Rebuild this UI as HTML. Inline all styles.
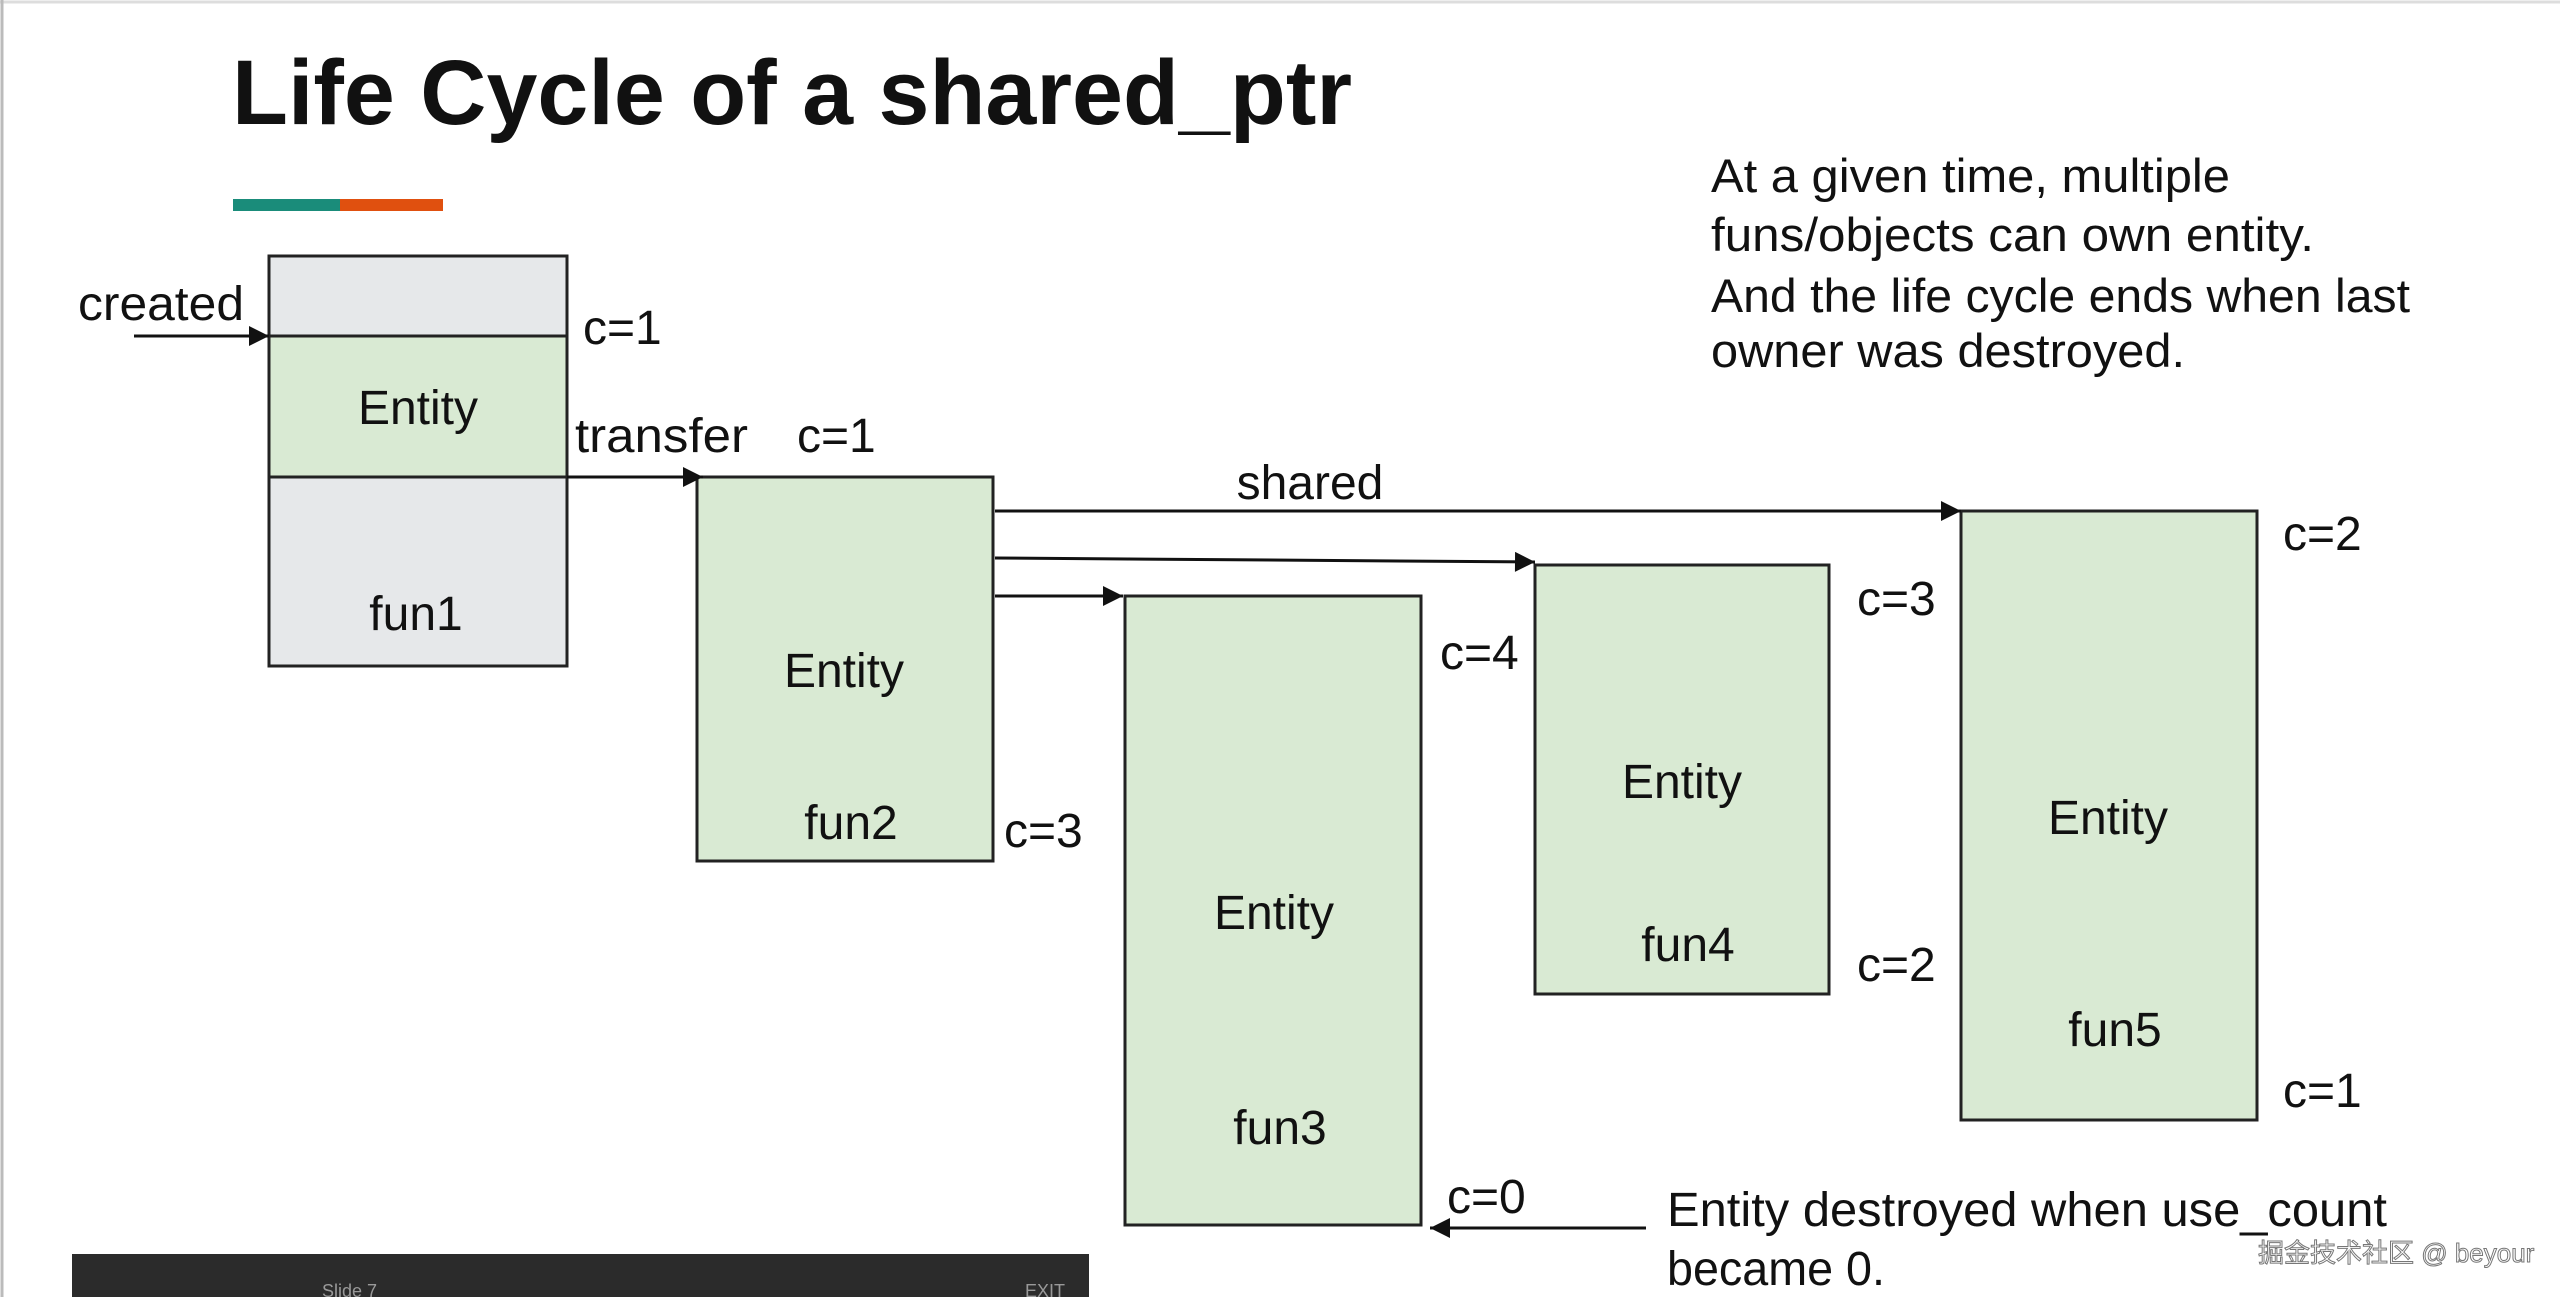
<!DOCTYPE html>
<html><head><meta charset="utf-8"><style>
html,body{margin:0;padding:0;background:#fff;}
svg{display:block;}
text{font-family:"Liberation Sans","Noto Sans CJK SC",sans-serif;fill:#111;}
</style></head><body>
<svg width="2560" height="1297" viewBox="0 0 2560 1297" xmlns="http://www.w3.org/2000/svg">
<defs><marker id="b" viewBox="0 0 10 10" refX="10" refY="5" markerWidth="22" markerHeight="20" markerUnits="userSpaceOnUse" orient="auto"><path d="M0,0 L10,5 L0,10z" fill="#111"/></marker></defs>
<rect width="2560" height="1297" fill="#fff"/>
<line x1="0" y1="2" x2="2560" y2="2" stroke="#ddd" stroke-width="3"/>
<line x1="2" y1="0" x2="2" y2="1297" stroke="#bbb" stroke-width="3"/>
<text x="232" y="124" font-size="92" font-weight="bold" textLength="1120" lengthAdjust="spacingAndGlyphs">Life Cycle of a shared_ptr</text>
<rect x="233" y="199" width="107" height="12" fill="#1a8c7a"/>
<rect x="340" y="199" width="103" height="12" fill="#e0500f"/>
<g font-size="47">
<text x="1711" y="192" textLength="519" lengthAdjust="spacingAndGlyphs">At a given time, multiple</text>
<text x="1711" y="251" textLength="603" lengthAdjust="spacingAndGlyphs">funs/objects can own entity.</text>
<text x="1711" y="312" textLength="699" lengthAdjust="spacingAndGlyphs">And the life cycle ends when last</text>
<text x="1711" y="367" textLength="474" lengthAdjust="spacingAndGlyphs">owner was destroyed.</text>
</g>
<g stroke="#222" stroke-width="3">
<rect x="269" y="256" width="298" height="410" fill="#e6e8ea"/>
<rect x="269" y="336" width="298" height="141" fill="#d9ead3"/>
<rect x="697" y="477" width="296" height="384" fill="#d9ead3"/>
<rect x="1125" y="596" width="296" height="629" fill="#d9ead3"/>
<rect x="1535" y="565" width="294" height="429" fill="#d9ead3"/>
<rect x="1961" y="511" width="296" height="609" fill="#d9ead3"/>
</g>
<g stroke="#111" stroke-width="3" fill="none">
<line x1="134" y1="336" x2="269" y2="336" marker-end="url(#b)"/>
<line x1="567" y1="477" x2="703" y2="477" marker-end="url(#b)"/>
<line x1="995" y1="511" x2="1961" y2="511" marker-end="url(#b)"/>
<line x1="995" y1="558" x2="1535" y2="562" marker-end="url(#b)"/>
<line x1="995" y1="596" x2="1123" y2="596" marker-end="url(#b)"/>
<line x1="1646" y1="1228" x2="1430" y2="1228" marker-end="url(#b)"/>
</g>
<g font-size="48">
<text x="78" y="320" textLength="166" lengthAdjust="spacingAndGlyphs">created</text>
<text x="583" y="344">c=1</text>
<text x="575" y="452" textLength="173" lengthAdjust="spacingAndGlyphs">transfer</text>
<text x="797" y="452">c=1</text>
<text x="1310" y="499" text-anchor="middle">shared</text>
<text x="418" y="424" text-anchor="middle">Entity</text>
<text x="416" y="630" text-anchor="middle">fun1</text>
<text x="844" y="687" text-anchor="middle">Entity</text>
<text x="851" y="839" text-anchor="middle">fun2</text>
<text x="1004" y="847">c=3</text>
<text x="1274" y="929" text-anchor="middle">Entity</text>
<text x="1280" y="1144" text-anchor="middle">fun3</text>
<text x="1440" y="669">c=4</text>
<text x="1447" y="1213">c=0</text>
<text x="1682" y="798" text-anchor="middle">Entity</text>
<text x="1688" y="961" text-anchor="middle">fun4</text>
<text x="1857" y="615">c=3</text>
<text x="1857" y="981">c=2</text>
<text x="2108" y="834" text-anchor="middle">Entity</text>
<text x="2115" y="1046" text-anchor="middle">fun5</text>
<text x="2283" y="550">c=2</text>
<text x="2283" y="1107">c=1</text>
<text x="1667" y="1226" textLength="720" lengthAdjust="spacingAndGlyphs">Entity destroyed when use_count</text>
<text x="1667" y="1285" textLength="218" lengthAdjust="spacingAndGlyphs">became 0.</text>
</g>
<rect x="72" y="1254" width="1017" height="43" fill="#2b2b2b"/>
<g font-size="18">
<text x="322" y="1297" style="fill:#999">Slide 7</text>
<text x="1025" y="1297" style="fill:#999">EXIT</text>
</g>
<text x="2258" y="1262" font-size="26" style="fill:#fff;stroke:#777;stroke-width:1">掘金技术社区 @ beyour</text>
</svg>
</body></html>
